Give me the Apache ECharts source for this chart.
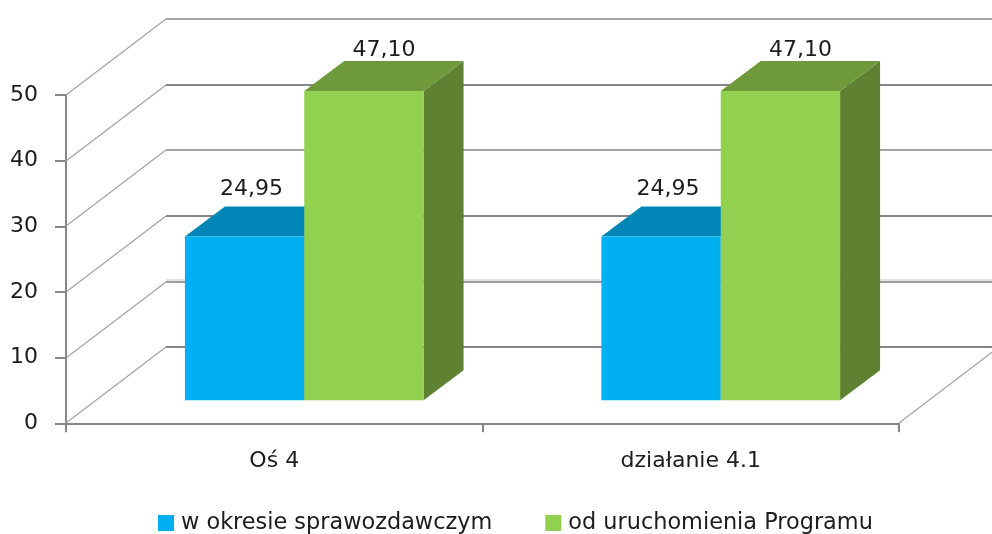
<!DOCTYPE html>
<html><head><meta charset="utf-8">
<style>html,body{margin:0;padding:0;background:#fff}#c{width:992px;height:534px}</style>
<script src="https://cdn.jsdelivr.net/npm/echarts@6/dist/echarts.min.js"></script>
</head><body><div id="c"></div>
<script>
const categories = ['Oś 4', 'działanie 4.1'];
const seriesNames = ['w okresie sprawozdawczym', 'od uruchomienia Programu'];
const periodValues = [24.95, 24.95];
const totalValues = [47.10, 47.10];
const yTicks = [0, 10, 20, 30, 40, 50];

const FONT = '"DejaVu Sans", sans-serif';
const TEXT = '#1c1c1c';
const GRID = '#868686';
const WALL = [100, -76];      // depth of the chart box
const BAR_SHIFT = [30, -23];  // bars stand this far into the box
const BAR_DEPTH = [40, -30];
const BAR_RATIO = 0.2865;

function wallItem(params, api) {
  const v = api.value(0);
  const y = Math.round(api.coord([0, v])[1]) ;
  const cs = params.coordSys;
  const x0 = cs.x, x1 = cs.x + cs.width;
  const wide = yTicks.indexOf(v) % 2 === 0;
  const yb = y + WALL[1];
  const children = [
    {type: 'line', shape: {x1: x0, y1: y, x2: x0 + WALL[0], y2: yb}, style: {stroke: '#a2a2a2', lineWidth: 1.2}},
    {type: 'line', shape: {x1: x0 + WALL[0], y1: yb, x2: x1 + WALL[0], y2: yb}, style: {stroke: GRID, lineWidth: wide ? 2 : 1.4}}
  ];
  if (v === 0) {
    children.push({type: 'line', shape: {x1: x1, y1: y, x2: x1 + WALL[0], y2: yb}, style: {stroke: '#a2a2a2', lineWidth: 1.2}});
  }
  if (v === 10) {
    children.unshift({type: 'line', shape: {x1: x0 + WALL[0], y1: yb - 1, x2: x1 + WALL[0], y2: yb - 1}, style: {stroke: '#e2e2e2', lineWidth: 4}});
  }
  return {type: 'group', children};
}

function barRenderer(slot, topColor, sideColor) {
  return function (params, api) {
    const cat = api.value(0), val = api.value(1);
    const base = api.coord([cat, 0]);
    const top = api.coord([cat, val]);
    const w = api.size([1, 0])[0] * BAR_RATIO;
    const xl = base[0] + BAR_SHIFT[0] + slot * w;
    const xr = xl + w;
    const yb = base[1] + BAR_SHIFT[1];
    const yt = top[1] + BAR_SHIFT[1];
    const dx = BAR_DEPTH[0], dy = BAR_DEPTH[1];
    return {type: 'group', children: [
      {type: 'polygon', shape: {points: [[xr, yb], [xr + dx, yb + dy], [xr + dx, yt + dy], [xr, yt]]}, style: {fill: sideColor}},
      {type: 'polygon', shape: {points: [[xl, yt], [xl + dx, yt + dy], [xr + dx, yt + dy], [xr, yt]]}, style: {fill: topColor}},
      {type: 'rect', shape: {x: xl, y: yt, width: w, height: yb - yt}, style: {fill: api.visual('color')}}
    ]};
  };
}

function labelRenderer(slot, lift, nudge) {
  return function (params, api) {
    const cat = api.value(0), val = api.value(1);
    const top = api.coord([cat, val]);
    const w = api.size([1, 0])[0] * BAR_RATIO;
    return {type: 'text', style: {
      x: top[0] + BAR_SHIFT[0] + slot * w + w / 2 + nudge,
      y: top[1] + BAR_SHIFT[1] - lift,
      text: val.toFixed(2).replace('.', ','),
      font: '22px ' + FONT, fill: TEXT, align: 'center', verticalAlign: 'middle'
    }};
  };
}

const chart = echarts.init(document.getElementById('c'), null, {renderer: 'canvas'});
chart.setOption({
  animation: false,
  backgroundColor: '#fff',
  grid: {left: 66, right: 93, top: 95, bottom: 110.7, containLabel: false},
  legend: {
    data: seriesNames, left: 153, top: 507, itemWidth: 16, itemHeight: 16, itemGap: 53, icon: 'rect',
    textStyle: {fontFamily: FONT, fontSize: 22.4, color: TEXT, padding: [0, 0, 0, 2]}
  },
  xAxis: {
    type: 'category', data: categories, boundaryGap: true,
    axisLine: {lineStyle: {color: GRID, width: 2}},
    axisTick: {show: true, length: 9, lineStyle: {color: GRID, width: 2}},
    axisLabel: {fontFamily: FONT, fontSize: 22, color: TEXT, margin: 27},
    z: 3
  },
  yAxis: {
    type: 'value', min: 0, max: 50, interval: 10,
    axisLine: {show: true, lineStyle: {color: GRID, width: 2}},
    axisTick: {show: true, length: 11, lineStyle: {color: GRID, width: 2}},
    axisLabel: {fontFamily: FONT, fontSize: 22, color: TEXT, margin: 28, padding: [4, 0, 0, 0]},
    splitLine: {show: false}
  },
  series: [
    {name: 'wall', type: 'custom', silent: true, z: 1, renderItem: wallItem,
     data: yTicks.map(v => [v]), encode: {y: 0}},
    {name: seriesNames[0], type: 'custom', z: 2, itemStyle: {color: '#00b0f0'},
     renderItem: barRenderer(-1, '#0086b6', '#0080ae'),
     data: periodValues.map((v, i) => [i, v]), encode: {x: 0, y: 1}},
    {name: seriesNames[1], type: 'custom', z: 3, itemStyle: {color: '#92d050'},
     renderItem: barRenderer(0, '#6f9a3c', '#5f8232'),
     data: totalValues.map((v, i) => [i, v]), encode: {x: 0, y: 1}},
    {name: 'labels1', type: 'custom', silent: true, z: 4, renderItem: labelRenderer(-1, 47, 7),
     data: periodValues.map((v, i) => [i, v]), encode: {x: 0, y: 1}},
    {name: 'labels2', type: 'custom', silent: true, z: 4, renderItem: labelRenderer(0, 41, 20),
     data: totalValues.map((v, i) => [i, v]), encode: {x: 0, y: 1}}
  ]
});
</script></body></html>
